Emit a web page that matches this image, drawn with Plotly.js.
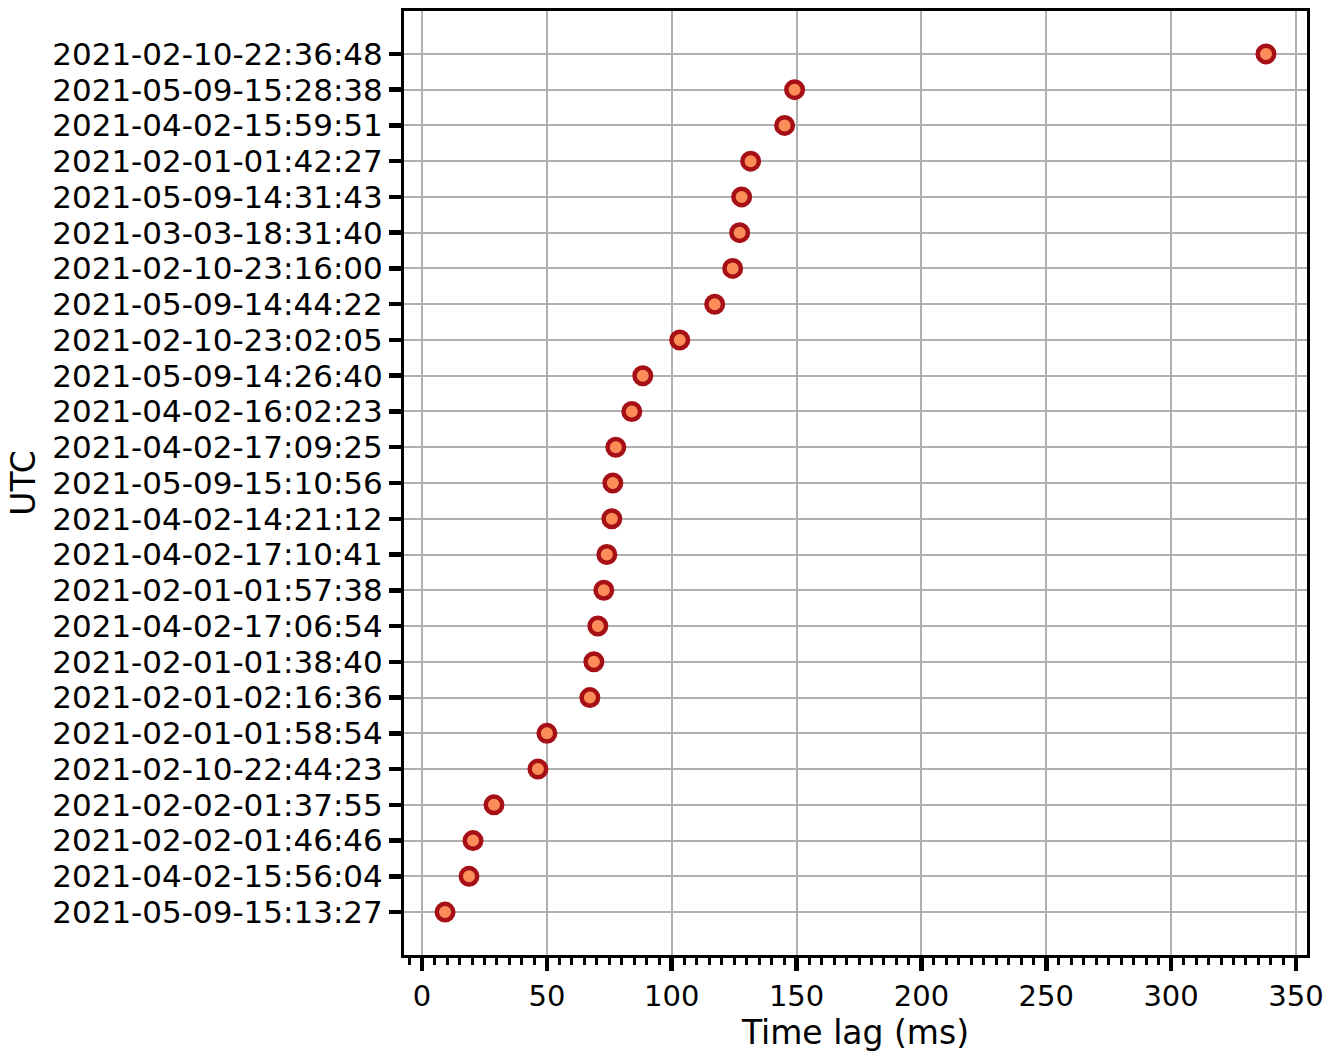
<!DOCTYPE html>
<html>
<head>
<meta charset="utf-8">
<script src="https://cdn.plot.ly/plotly-3.0.1.min.js"></script>
<style>html,body{margin:0;padding:0;background:#fff;}#chart{width:1342px;height:1053px;}</style>
</head>
<body>
<div id="chart"></div>
<script>
// Events, listed from top of the chart to bottom
const utcLabels = [
  "2021-02-10-22:36:48",
  "2021-05-09-15:28:38",
  "2021-04-02-15:59:51",
  "2021-02-01-01:42:27",
  "2021-05-09-14:31:43",
  "2021-03-03-18:31:40",
  "2021-02-10-23:16:00",
  "2021-05-09-14:44:22",
  "2021-02-10-23:02:05",
  "2021-05-09-14:26:40",
  "2021-04-02-16:02:23",
  "2021-04-02-17:09:25",
  "2021-05-09-15:10:56",
  "2021-04-02-14:21:12",
  "2021-04-02-17:10:41",
  "2021-02-01-01:57:38",
  "2021-04-02-17:06:54",
  "2021-02-01-01:38:40",
  "2021-02-01-02:16:36",
  "2021-02-01-01:58:54",
  "2021-02-10-22:44:23",
  "2021-02-02-01:37:55",
  "2021-02-02-01:46:46",
  "2021-04-02-15:56:04",
  "2021-05-09-15:13:27"
];
const timeLagMs = [
  338.0, 149.2, 145.2, 131.6, 128.0, 127.2, 124.4, 117.2, 103.2, 88.4,
  84.0, 77.6, 76.4, 76.0, 74.0, 72.8, 70.4, 68.8, 67.2, 50.0,
  46.4, 28.8, 20.4, 18.8, 9.2
];
const xTickVals = [0, 50, 100, 150, 200, 250, 300, 350];

const FONT = "DejaVu Sans, Liberation Sans, sans-serif";
const n = utcLabels.length;
const xmin = Math.min(...timeLagMs), xmax = Math.max(...timeLagMs);
const pad = 0.05 * (xmax - xmin);

const trace = {
  type: "scatter",
  mode: "markers",
  x: timeLagMs,
  y: utcLabels,
  marker: {
    size: 16.5,
    color: "#fc8d59",
    line: {color: "#a50f15", width: 4.5}
  },
  hoverinfo: "x+y"
};

const layout = {
  width: 1342,
  height: 1053,
  margin: {l: 404, r: 35, t: 11, b: 98, pad: 0},
  paper_bgcolor: "#ffffff",
  plot_bgcolor: "#ffffff",
  showlegend: false,
  font: {family: FONT, size: 28, color: "#000000"},
  xaxis: {
    range: [xmin - pad, xmax + pad],
    tickmode: "array",
    tickvals: xTickVals,
    ticktext: xTickVals.map(String),
    ticks: "outside",
    ticklen: 13,
    tickwidth: 4.5,
    tickcolor: "#000000",
    showline: true,
    linecolor: "#000000",
    linewidth: 3,
    mirror: true,
    showgrid: true,
    gridcolor: "#b0b0b0",
    gridwidth: 2,
    zeroline: false,
    tickfont: {family: FONT, size: 29, color: "#000000"},
    minor: {dtick: 5, tick0: 0, ticks: "outside", ticklen: 7, tickwidth: 3, tickcolor: "#000000", showgrid: false},
    title: {text: "Time lag (ms)", font: {family: FONT, size: 33, color: "#000000"}, standoff: 10}
  },
  yaxis: {
    type: "category",
    categoryorder: "array",
    categoryarray: utcLabels,
    range: [n - 1 + 0.05 * (n - 1), -0.05 * (n - 1)],
    tickmode: "array",
    tickvals: utcLabels,
    ticktext: utcLabels,
    ticks: "outside",
    ticklen: 12,
    tickwidth: 4.5,
    tickcolor: "#000000",
    showline: true,
    linecolor: "#000000",
    linewidth: 3,
    mirror: true,
    showgrid: true,
    gridcolor: "#b0b0b0",
    gridwidth: 2,
    zeroline: false,
    tickfont: {family: FONT, size: 31, color: "#000000"},
    title: {text: "UTC", font: {family: FONT, size: 33, color: "#000000"}, standoff: 7}
  }
};

Plotly.newPlot("chart", [trace], layout, {displayModeBar: false, staticPlot: true});
</script>
</body>
</html>
